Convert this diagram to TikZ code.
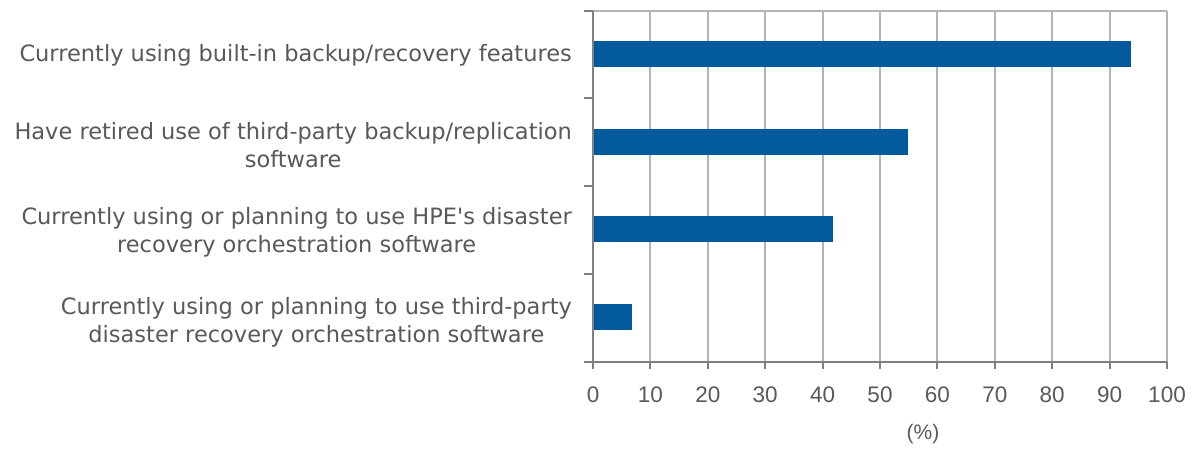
\documentclass[tikz,border=0pt]{standalone}
\usepackage{fontspec}
\setmainfont{Liberation Sans}
\newfontfamily\labfont{DejaVu Sans}
\definecolor{bar}{HTML}{005A9C}
\definecolor{txt}{HTML}{595959}
\definecolor{grid}{HTML}{B4B4B4}
\definecolor{axis}{HTML}{7F7F7F}
\begin{document}
\begin{tikzpicture}[x=1pt,y=-1pt,
  catlab/.style={anchor=east,align=center,text=txt,font=\labfont\fontsize{22.5}{28}\selectfont,inner sep=0pt},
  ticklab/.style={text=txt,font=\fontsize{22.5}{26}\selectfont,inner sep=0pt},
  barbox/.style={fill=bar,draw=none},
  gridline/.style={draw=grid,line width=2pt},
  axisline/.style={draw=axis,line width=2pt}]
\useasboundingbox (0,0) rectangle (1197,448);
\fill[white] (0,0) rectangle (1197,448);
% grid
\foreach \v in {10,20,...,100} {
  \draw[gridline] ({593+5.74*\v},10.7) -- ({593+5.74*\v},361.7);
}
\draw[gridline] (593,10.7) -- (1167,10.7);
% bars
\node[barbox,minimum width={5.74*93.7pt},minimum height=26pt,inner sep=0pt,anchor=west] (b1) at (593,53.7) {};
\node[barbox,minimum width={5.74*54.9pt},minimum height=26pt,inner sep=0pt,anchor=west] (b2) at (593,141.5) {};
\node[barbox,minimum width={5.74*41.8pt},minimum height=26pt,inner sep=0pt,anchor=west] (b3) at (593,229.2) {};
\node[barbox,minimum width={5.74*6.7pt},minimum height=26pt,inner sep=0pt,anchor=west] (b4) at (593,317) {};
% axes
\draw[axisline] (593,10.7) -- (593,361.7);
\draw[axisline] (584,361.7) -- (1167,361.7);
\foreach \y in {10.7,98.4,186.2,273.9,361.7} {
  \draw[axisline] (584,\y) -- (593,\y);
}
\foreach \v in {0,10,...,100} {
  \draw[axisline] ({593+5.74*\v},361.7) -- ({593+5.74*\v},369);
  \node[ticklab] (t\v) at ({593+5.74*\v},395) {\v};
}
\node[ticklab,font=\fontsize{21}{24}\selectfont] (unit) at (923,434) {(\%)};
% category labels
\node[catlab] (c1) at (572,55) {Currently using built-in backup/recovery features};
\node[catlab] (c2) at (572,145) {Have retired use of third-party backup/replication\\software};
\node[catlab] (c3) at (572,232) {Currently using or planning to use HPE's disaster\\recovery orchestration software};
\node[catlab] (c4) at (572,322) {Currently using or planning to use third-party\\disaster recovery orchestration software};
\end{tikzpicture}
\end{document}
